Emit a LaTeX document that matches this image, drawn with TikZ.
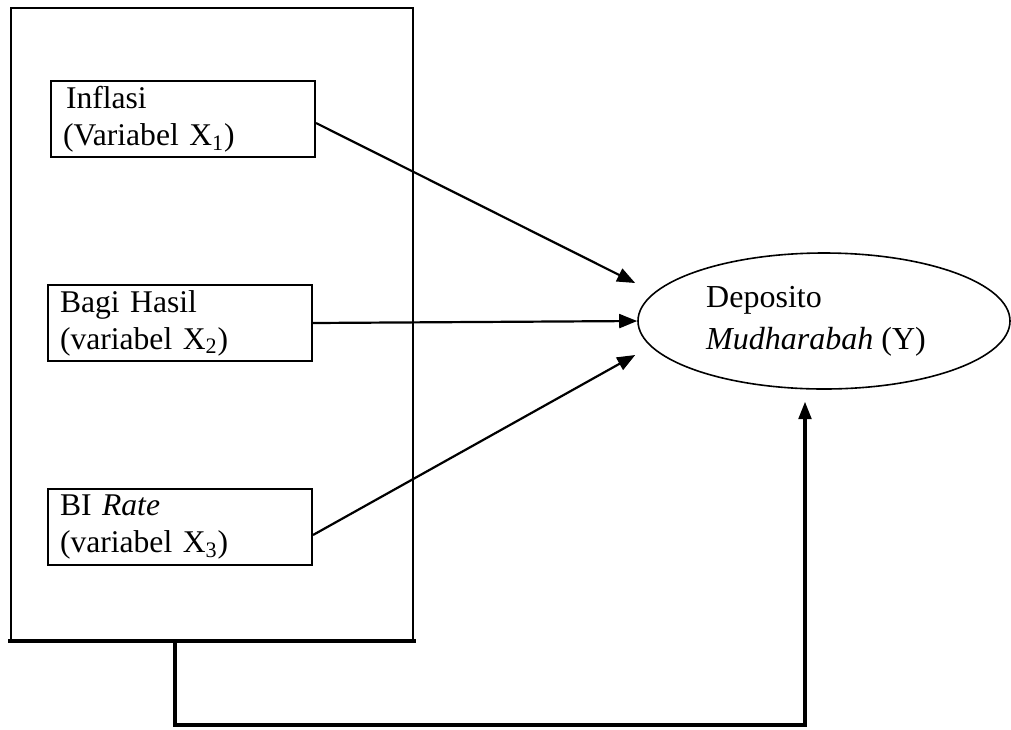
\documentclass[tikz,border=0pt]{standalone}
\usepackage{fontspec}
\setmainfont{Liberation Serif}
\usetikzlibrary{arrows.meta, shapes.geometric}

\tikzset{
  varbox/.style = {draw, line width=1pt, rectangle, anchor=north west, minimum width=132pt, minimum height=38pt, text width=120pt, inner xsep=6pt, inner ysep=0pt, align=left, font=\fontsize{15.8}{18.6}\selectfont},
  depbox/.style = {draw, line width=0.8pt, ellipse, minimum width=186pt, minimum height=68pt, align=left, font=\fontsize{16}{21}\selectfont},
  frame/.style = {draw, line width=1pt, rectangle, anchor=north west, minimum width=201pt, minimum height=316pt},
  conn/.style = {line width=1.1pt, -{Triangle[length=9pt,width=7pt]}},
  fb/.style = {line width=2.2pt, -{Triangle[length=9pt,width=6pt]}}
}

\begin{document}
\begin{tikzpicture}[x=0.5pt, y=-0.5pt]
\useasboundingbox (0,0) rectangle (1011,729);

\node[frame] (grp) at (10,7) {};
\draw[line width=2.2pt] ([xshift=-1pt]grp.south west) -- ([xshift=1pt]grp.south east);

\node[varbox] (x1) at (50,80) {\hspace*{1.5pt}Inflasi\\(Variabel X\textsubscript{1})};
\node[varbox] (x2) at (47,284) {Bagi Hasil\\(variabel X\textsubscript{2})};
\node[varbox] (x3) at (47,488) {BI \textit{Rate}\\(variabel X\textsubscript{3})};

\node[depbox] (y) at (824,321) {Deposito\\\textit{Mudharabah} (Y)\hspace*{8pt}};

\draw[conn] ([yshift=-2pt]x1.east) -- ([xshift=-1pt,yshift=19pt]y.west);
\draw[conn] (x2.east) -- (y.west);
\draw[conn] ([yshift=-4pt]x3.east) -- ([xshift=-1pt,yshift=-17pt]y.west);

% umpan balik dari kelompok X ke Y
\coordinate (out) at (175,641);
\coordinate (in) at (805,401);
\draw[fb] (out) -- ++(0,84) -| (in);
\end{tikzpicture}
\end{document}
